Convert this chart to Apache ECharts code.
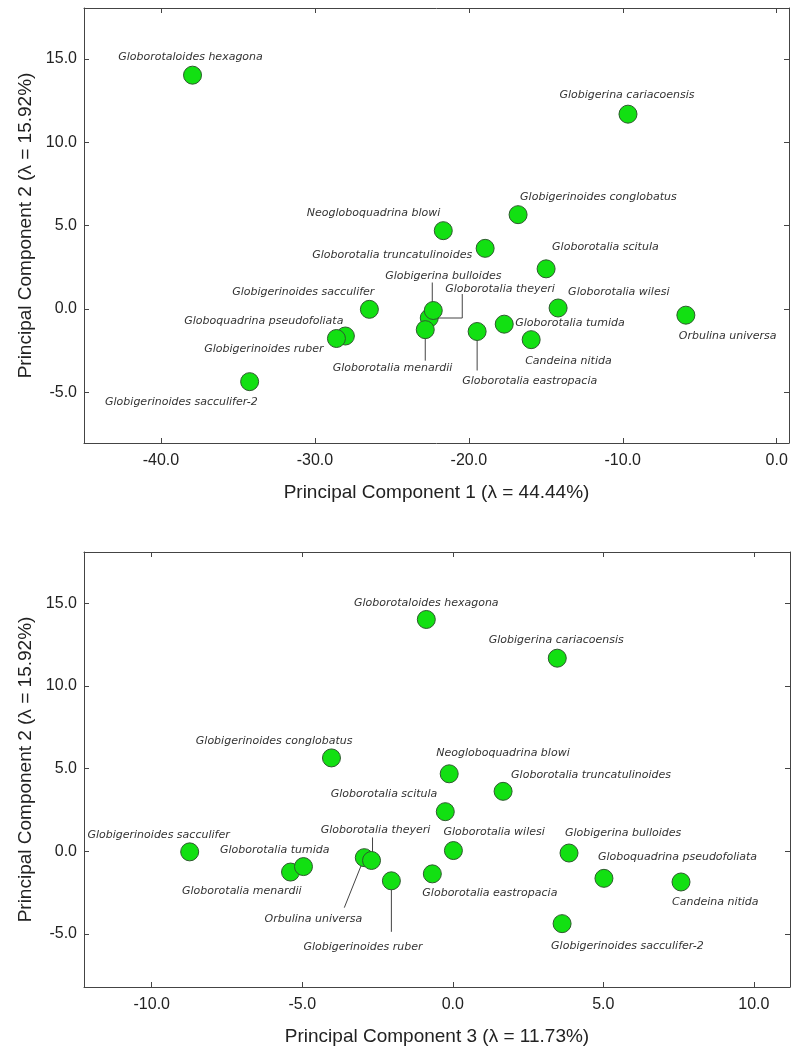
<!DOCTYPE html>
<html>
<head>
<meta charset="utf-8">
<script src="https://cdn.jsdelivr.net/npm/echarts@6/dist/echarts.min.js"></script>
<style>
  html, body { margin: 0; background: #fff; }
  #chart { width: 792px; height: 1050px; }
</style>
</head>
<body>
<div id="chart"></div>
<script>
// species, drawn in this order (theyeri sits under bulloides / menardii)
const species = [
  'Globorotaloides hexagona', 'Globigerina cariacoensis', 'Globigerinoides conglobatus',
  'Neogloboquadrina blowi', 'Globorotalia truncatulinoides', 'Globorotalia scitula',
  'Orbulina universa', 'Globorotalia theyeri', 'Globigerina bulloides',
  'Globorotalia menardii', 'Globorotalia eastropacia', 'Globorotalia tumida',
  'Globorotalia wilesi', 'Candeina nitida', 'Globigerinoides sacculifer',
  'Globoquadrina pseudofoliata', 'Globigerinoides ruber', 'Globigerinoides sacculifer-2'
]
const pc1 = [-37.95, -9.66, -16.8, -21.66, -18.94, -14.98, -5.9, -22.57, -22.31, -22.83, -19.46, -17.7, -14.2, -15.95, -26.46, -28.02, -28.6, -34.24]
const pc2 = [14.02, 11.68, 5.65, 4.69, 3.63, 2.4, -0.38, -0.55, -0.1, -1.25, -1.36, -0.92, 0.05, -1.85, -0.03, -1.63, -1.78, -4.37]
const pc3 = [-0.88, 3.47, -4.03, -0.12, 1.67, -0.25, -2.94, -2.7, 3.86, -5.39, -0.68, -4.96, 0.02, 7.58, -8.74, 5.02, -2.04, 3.63]

const xTicks1 = [-40, -30, -20, -10, 0]
const xTicks2 = [-10, -5, 0, 5, 10]
const yTicks = [-5, 0, 5, 10, 15]

// label placement: [dx, dy, align] in px from the marker centre
const labelAt1 = {
  'Globorotaloides hexagona': [-2, -18, 'center'],
  'Globigerina cariacoensis': [-1, -19, 'center'],
  'Globigerinoides conglobatus': [2, -18, 'left'],
  'Neogloboquadrina blowi': [-3, -18, 'right'],
  'Globorotalia truncatulinoides': [-13, 7, 'right'],
  'Globorotalia scitula': [6, -22, 'left'],
  'Orbulina universa': [-7, 21, 'left'],
  'Globorotalia theyeri': [16, -29, 'left'],
  'Globigerina bulloides': [10, -34, 'center'],
  'Globorotalia menardii': [27, 38, 'right'],
  'Globorotalia eastropacia': [-15, 50, 'left'],
  'Globorotalia tumida': [11, -1, 'left'],
  'Globorotalia wilesi': [10, -16, 'left'],
  'Candeina nitida': [-6, 21, 'left'],
  'Globigerinoides sacculifer': [5, -17, 'right'],
  'Globoquadrina pseudofoliata': [-2, -15, 'right'],
  'Globigerinoides ruber': [-13, 11, 'right'],
  'Globigerinoides sacculifer-2': [8, 20, 'right']
}
const labelAt2 = {
  'Globorotaloides hexagona': [0, -16, 'center'],
  'Globigerina cariacoensis': [-1, -18, 'center'],
  'Globigerinoides conglobatus': [21, -17, 'right'],
  'Neogloboquadrina blowi': [-13, -21, 'left'],
  'Globorotalia truncatulinoides': [8, -16, 'left'],
  'Globorotalia scitula': [-8, -18, 'right'],
  'Orbulina universa': [-2, 61, 'right'],
  'Globorotalia theyeri': [4, -30, 'center'],
  'Globigerina bulloides': [-4, -20, 'left'],
  'Globorotalia menardii': [11, 19, 'right'],
  'Globorotalia eastropacia': [-10, 19, 'left'],
  'Globorotalia tumida': [26, -16, 'right'],
  'Globorotalia wilesi': [-10, -18, 'left'],
  'Candeina nitida': [-9, 20, 'left'],
  'Globigerinoides sacculifer': [40, -17, 'right'],
  'Globoquadrina pseudofoliata': [-6, -21, 'left'],
  'Globigerinoides ruber': [-88, 66, 'left'],
  'Globigerinoides sacculifer-2': [-11, 22, 'left']
}
// leader lines, px offsets from the marker centre
const leaders1 = {
  'Globigerina bulloides': [[-1, 0], [-1, -28]],
  'Globorotalia theyeri': [[0, 0], [33, 0], [33, -24]],
  'Globorotalia menardii': [[0, 0], [0, 31]],
  'Globorotalia eastropacia': [[0, 0], [0, 39]]
}
const leaders2 = {
  'Globorotalia theyeri': [[1, 0], [1, -23]],
  'Orbulina universa': [[0, 0], [-20, 50]],
  'Globigerinoides ruber': [[0, 0], [0, 51]]
}

const chart = echarts.init(document.getElementById('chart'))

const lineColor = '#444'
const fmt = v => v.toFixed(1)
const tickFont = { fontFamily: 'Liberation Sans', fontSize: 16, color: '#222' }
const nameFont = { fontFamily: 'Liberation Sans', fontSize: 19, color: '#222' }

function xAxes(gi, min, max, ticks, name) {
  const common = {
    gridIndex: gi, type: 'value', min, max,
    splitLine: { show: false },
    axisLine: { show: true, onZero: false, lineStyle: { color: lineColor, width: 1 } },
    axisTick: { show: true, inside: true, length: 5, customValues: ticks, lineStyle: { color: lineColor } }
  }
  return [
    Object.assign({}, common, {
      position: 'bottom', name, nameLocation: 'middle', nameGap: 40, nameTextStyle: nameFont,
      axisLabel: Object.assign({ customValues: ticks, formatter: fmt, margin: 10 }, tickFont)
    }),
    Object.assign({}, common, { position: 'top', axisLabel: { show: false } })
  ]
}

function yAxes(gi, min, max, name) {
  const common = {
    gridIndex: gi, type: 'value', min, max,
    splitLine: { show: false },
    axisLine: { show: true, onZero: false, lineStyle: { color: lineColor, width: 1 } },
    axisTick: { show: true, inside: true, length: 5, customValues: yTicks, lineStyle: { color: lineColor } }
  }
  return [
    Object.assign({}, common, {
      position: 'left', name, nameLocation: 'middle', nameGap: 49, nameTextStyle: nameFont,
      axisLabel: Object.assign({ customValues: yTicks, formatter: fmt, margin: 7 }, tickFont)
    }),
    Object.assign({}, common, { position: 'right', axisLabel: { show: false } })
  ]
}

function scatter(gi, xs, layout) {
  return {
    type: 'scatter', xAxisIndex: gi * 2, yAxisIndex: gi * 2, z: 3,
    symbolSize: 18,
    itemStyle: { color: '#12e012', borderColor: '#2d5a2d', borderWidth: 1, opacity: 1 },
    label: {
      show: true, position: 'inside', formatter: '{b}', color: '#333',
      fontFamily: 'DejaVu Sans', fontStyle: 'italic', fontSize: 11, verticalAlign: 'middle'
    },
    emphasis: { disabled: true },
    data: species.map((n, i) => {
      const [dx, dy, align] = layout[n]
      return { name: n, value: [xs[i], pc2[i]], label: { offset: [dx, dy], align } }
    })
  }
}

function leaderLines(gi, xs, leaders) {
  const items = []
  species.forEach((n, i) => { if (leaders[n]) items.push([xs[i], pc2[i], i]) })
  return {
    type: 'custom', xAxisIndex: gi * 2, yAxisIndex: gi * 2, z: 2, silent: true,
    data: items,
    renderItem: (params, api) => {
      const p = api.coord([api.value(0), api.value(1)])
      const path = leaders[species[api.value(2)]]
      return {
        type: 'polyline',
        shape: { points: path.map(o => [p[0] + o[0], p[1] + o[1]]) },
        style: { stroke: lineColor, lineWidth: 1, fill: null }
      }
    }
  }
}

chart.setOption({
  animation: false,
  backgroundColor: '#fff',
  grid: [
    { left: 84, top: 8, width: 705, height: 435 },
    { left: 84, top: 552, width: 706, height: 435 }
  ],
  xAxis: [
    ...xAxes(0, -45, 0.8, xTicks1, 'Principal Component 1 (λ = 44.44%)'),
    ...xAxes(1, -12.25, 11.2, xTicks2, 'Principal Component 3 (λ = 11.73%)')
  ],
  yAxis: [
    ...yAxes(0, -8.05, 18.05, 'Principal Component 2 (λ = 15.92%)'),
    ...yAxes(1, -8.2, 18.1, 'Principal Component 2 (λ = 15.92%)')
  ],
  series: [
    leaderLines(0, pc1, leaders1),
    scatter(0, pc1, labelAt1),
    leaderLines(1, pc3, leaders2),
    scatter(1, pc3, labelAt2)
  ]
})
</script>
</body>
</html>
